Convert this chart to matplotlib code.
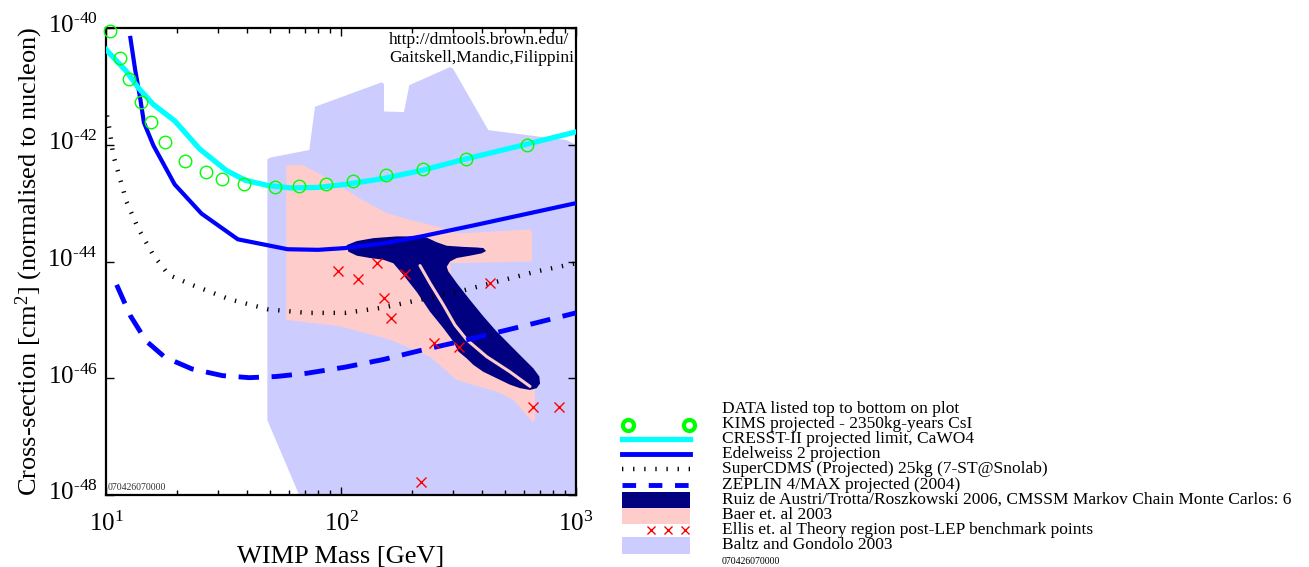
import numpy as np
import matplotlib
matplotlib.use("Agg")
import matplotlib.pyplot as plt
from matplotlib.ticker import LogLocator, NullLocator, FixedLocator, FuncFormatter, NullFormatter
from matplotlib.transforms import ScaledTranslation

plt.rcParams["font.family"] = ["Liberation Serif", "DejaVu Serif"]
plt.rcParams["mathtext.fontset"] = "custom"
plt.rcParams["mathtext.rm"] = "Liberation Serif"
plt.rcParams["mathtext.it"] = "Liberation Serif:italic"
plt.rcParams["mathtext.bf"] = "Liberation Serif:bold"
plt.rcParams["mathtext.default"] = "regular"

# --- datos (masa en GeV, log10 de la seccion eficaz en cm^2) ---
kims_mass = [10.4, 11.45, 12.53, 14.13, 15.57, 17.89, 21.6, 26.6, 31.3, 38.7,
             52.5, 66.5, 86.2, 112, 155, 224, 342, 618]
kims_logsig = [-40.05, -40.51, -40.88, -41.27, -41.61, -41.95, -42.28, -42.47, -42.58, -42.67,
               -42.72, -42.71, -42.68, -42.62, -42.52, -42.41, -42.24, -42.0]

cresst_mass = [10, 12.2, 13.7, 15.9, 19.6, 25, 32.5, 39.2, 49.1, 61.5, 80, 104, 151, 220, 342, 618, 1000]
cresst_logsig = [-40.37, -40.74, -41.02, -41.31, -41.59, -42.07, -42.44, -42.61, -42.70, -42.74,
                 -42.73, -42.68, -42.58, -42.44, -42.24, -41.99, -41.78]

edel_mass = [12.7, 13.3, 14.0, 14.5, 15.9, 19.6, 25.5, 36.4, 59.3, 80, 104, 151, 220, 378, 1000]
edel_logsig = [-40.17, -40.71, -41.22, -41.62, -42.01, -42.68, -43.18, -43.62, -43.79, -43.80,
               -43.77, -43.69, -43.57, -43.37, -43.0]

cdms_mass = [10.1, 10.34, 10.74, 11.36, 12.24, 13.7, 15.9, 18.5, 23.2, 33.7, 49.1, 71.4,
             104, 151, 220, 321, 467, 679, 1000]
cdms_logsig = [-41.5, -41.73, -42.18, -42.52, -42.98, -43.43, -43.89, -44.23, -44.40, -44.65,
               -44.82, -44.88, -44.88, -44.79, -44.65, -44.51, -44.34, -44.17, -44.03]

zep_mass = [11.1, 12.7, 14.8, 17.8, 23.2, 31.3, 40.7, 53, 71.4, 104, 151, 220, 321, 467, 678, 1000]
zep_logsig = [-44.40, -44.93, -45.36, -45.64, -45.84, -45.955, -45.99, -45.97, -45.915, -45.81,
              -45.68, -45.52, -45.37, -45.21, -45.05, -44.88]

ellis_mass = [97.4, 118.6, 141.9, 187, 152.5, 163, 249.5, 318.6, 430, 658, 849, 219]
ellis_logsig = [-44.16, -44.30, -44.03, -44.21, -44.63, -44.97, -45.40, -45.46, -44.36,
                -46.50, -46.50, -47.77]

# Baltz & Gondolo 2003 (region)
baltz_mass = [48.6, 50, 73.3, 77.5, 149, 152.4, 152.4, 185.4, 195.3, 291, 300, 423.6,
              912, 1000, 1000, 66.4, 48.6]
baltz_logsig = [-42.25, -42.22, -42.09, -41.35, -40.93, -40.96, -41.43, -41.44, -40.98, -40.67,
                -40.70, -41.75, -41.92, -42.0, -48.0, -48.0, -46.72]

# Baer et al 2003 (region)
baer_mass = [58.5, 69, 90, 120, 156, 197, 255, 321, 637, 650, 650, 291, 300, 400, 500, 640,
             669, 669, 655, 541, 460, 311, 239, 162, 99, 58.5]
baer_logsig = [-42.35, -42.35, -42.60, -42.92, -43.17, -43.29, -43.40, -43.52, -43.45, -43.50,
               -44.0, -44.03, -44.5, -45.3, -45.7, -46.0, -46.15, -46.72, -46.75, -46.37,
               -46.23, -46.03, -45.63, -45.34, -45.11, -45.0]

# Ruiz de Austri / Trotta / Roszkowski 2006 (region)
ruiz_mass = [105.7, 116.7, 137.3, 172.6, 209.9, 231.6, 255.4, 281.8, 331.6, 377.9, 403.5, 414,
             397, 354, 310.8, 291, 281.8, 286.3, 310.8, 354, 403.5, 459.7, 523.6, 596.8, 658.2,
             698, 703, 680.4, 637.2, 578, 523.6, 459.7, 403.5, 365.6, 342.8, 315.6, 300.6,
             272.4, 239.2, 209.9, 184.2, 167, 151.4, 132.9, 116.7, 107.4]
ruiz_logsig = [-43.72, -43.65, -43.60, -43.57, -43.57, -43.59, -43.67, -43.73, -43.75, -43.76,
               -43.77, -43.82, -43.86, -43.90, -43.94, -44.0, -44.09, -44.17, -44.37, -44.66,
               -44.94, -45.20, -45.43, -45.66, -45.83, -45.97, -46.09, -46.17, -46.20, -46.17,
               -46.11, -46.0, -45.89, -45.77, -45.66, -45.54, -45.37, -45.14, -44.86, -44.52,
               -44.23, -44.03, -43.97, -43.94, -43.90, -43.83]
# franja interior (sin rellenar) de la region Ruiz
ruiz_inner_mass = [216.8, 239.2, 272.4, 305.5, 342.8, 416.9, 523.6, 637.2]
ruiz_inner_logsig = [-44.07, -44.37, -44.74, -45.09, -45.34, -45.63, -45.89, -46.14]

ytick_exps = [-48, -46, -44, -42, -40]

legend_labels = [
    "KIMS projected - 2350kg-years CsI",
    "CRESST-II projected limit, CaWO4",
    "Edelweiss 2 projection",
    "SuperCDMS (Projected) 25kg (7-ST@Snolab)",
    "ZEPLIN 4/MAX projected (2004)",
    "Ruiz de Austri/Trotta/Roszkowski 2006, CMSSM Markov Chain Monte Carlos: 6",
    "Baer et. al 2003",
    "Ellis et. al Theory region post-LEP benchmark points",
    "Baltz and Gondolo 2003",
]

C_BALTZ = "#ccccff"
C_BAER = "#ffcccc"
C_RUIZ = "#000080"
C_KIMS = "#00ff00"
C_CRESST = "#00ffff"
C_BLUE = "#0000ff"
DOTS = (0, (0.3, 2.2))


def sig(v):
    return 10.0 ** np.asarray(v)


def pow_label(v, pos):
    e = int(round(np.log10(v)))
    return r"$10^{\text{%d}}$" % e


fig = plt.figure(figsize=(13.09, 5.67), dpi=100)
ax = fig.add_axes([106 / 1309, 1 - 495 / 567, 470 / 1309, 467 / 567])
ax.set_xscale("log")
ax.set_yscale("log")

ax.fill(baltz_mass, sig(baltz_logsig), color=C_BALTZ, lw=0, zorder=1)
ax.fill(baer_mass, sig(baer_logsig), color=C_BAER, lw=0, zorder=2)
ax.fill(ruiz_mass, sig(ruiz_logsig), color=C_RUIZ, lw=0, zorder=3)
ax.plot(ruiz_inner_mass, sig(ruiz_inner_logsig), color=C_BAER, lw=2.2,
        solid_capstyle="round", zorder=3.5)

ax.plot(cdms_mass, sig(cdms_logsig), color="black", lw=3.2, linestyle=DOTS, zorder=4)
ax.plot(zep_mass, sig(zep_logsig), color=C_BLUE, lw=3.5, linestyle=(0, (4.2, 2.6)), zorder=5)
ax.plot(edel_mass, sig(edel_logsig), color=C_BLUE, lw=3, zorder=5)
ax.plot(cresst_mass, sig(cresst_logsig), color=C_CRESST, lw=3.8, zorder=6)
ax.plot(kims_mass, sig(kims_logsig), linestyle="none", marker="o", ms=9, mfc="none",
        mec=C_KIMS, mew=1.0, zorder=7, clip_on=False)
ax.plot(ellis_mass, sig(ellis_logsig), linestyle="none", marker="x", ms=7, color="red",
        mew=1.0, zorder=8)

ax.set_xlim(10, 1000)
ax.set_ylim(1e-48, 1e-40)
ax.xaxis.set_major_locator(FixedLocator([10, 100, 1000]))
ax.xaxis.set_major_formatter(FuncFormatter(pow_label))
ax.yaxis.set_major_locator(FixedLocator(sig(ytick_exps)))
ax.yaxis.set_major_formatter(FuncFormatter(pow_label))
ax.yaxis.set_minor_locator(NullLocator())
ax.xaxis.set_minor_locator(LogLocator(base=10, subs=np.arange(2, 10)))
ax.xaxis.set_minor_formatter(NullFormatter())
ax.tick_params(which="both", direction="in", top=True, right=True, labelsize=18, width=1)
ax.tick_params(which="major", length=6)
ax.tick_params(axis="x", which="major", pad=12)
ax.tick_params(axis="y", which="major", pad=6)
ax.tick_params(which="minor", length=3.5)
for s in ax.spines.values():
    s.set_linewidth(1.6)
# MATLAB deja la base "10" centrada en la marca: subir un poco las etiquetas del eje y
for lab in ax.get_yticklabels():
    lab.set_transform(lab.get_transform() + ScaledTranslation(0, 3 / 72, fig.dpi_scale_trans))

ax.set_xlabel("WIMP Mass [GeV]", fontsize=19, labelpad=7)
ax.set_ylabel("Cross-section [cm$^2$] (normalised to nucleon)", fontsize=19)
ax.yaxis.set_label_coords(-0.13, 0.5)

ax.text(0.602, 0.975, "http://dmtools.brown.edu/", transform=ax.transAxes, fontsize=12.5,
        ha="left", va="center", zorder=10, clip_on=True)
ax.text(0.602, 0.935, "Gaitskell,Mandic,Filippini", transform=ax.transAxes, fontsize=12.5,
        ha="left", va="center", zorder=10, clip_on=True)
ax.text(0.004, 0.007, "070426070000", transform=ax.transAxes, fontsize=7, color="#333333",
        ha="left", va="bottom", zorder=10)

# --- leyenda dibujada a mano en coordenadas de pixel ---
lax = fig.add_axes([0, 0, 1, 1])
lax.set_xlim(0, 1309)
lax.set_ylim(567, 0)
lax.axis("off")

tx = 722
rows = [424, 439, 454, 469, 485, 500, 515, 530, 545]
lax.text(tx, 409, "DATA listed top to bottom on plot", fontsize=12.5, va="center", ha="left")
for lbl, yy in zip(legend_labels, rows):
    lax.text(tx, yy, lbl, fontsize=12.5, va="center", ha="left")
lax.text(tx, 561, "070426070000", fontsize=7, va="center", ha="left")

lax.plot([628, 689], [425, 425], linestyle="none", marker="o", ms=8, mfc="none",
         mec=C_KIMS, mew=3)
lax.plot([622, 690], [439, 439], color=C_CRESST, lw=3.8)
lax.plot([622, 690], [454, 454], color=C_BLUE, lw=3.5)
lax.plot([622, 690], [469, 469], color="black", lw=3.2, linestyle=DOTS)
lax.plot([622, 690], [485, 485], color=C_BLUE, lw=3.5, linestyle=(0, (2.8, 2.6)))
lax.fill([622, 690, 690, 622], [492, 492, 508, 508], color=C_RUIZ, lw=0)
lax.fill([622, 690, 690, 622], [508, 508, 524, 524], color=C_BAER, lw=0)
lax.plot([651, 668, 685], [530, 530, 530], linestyle="none", marker="x", ms=6,
         color="red", mew=1.0)
lax.fill([622, 690, 690, 622], [537, 537, 554, 554], color=C_BALTZ, lw=0)

fig.savefig("out.png", dpi=100)
